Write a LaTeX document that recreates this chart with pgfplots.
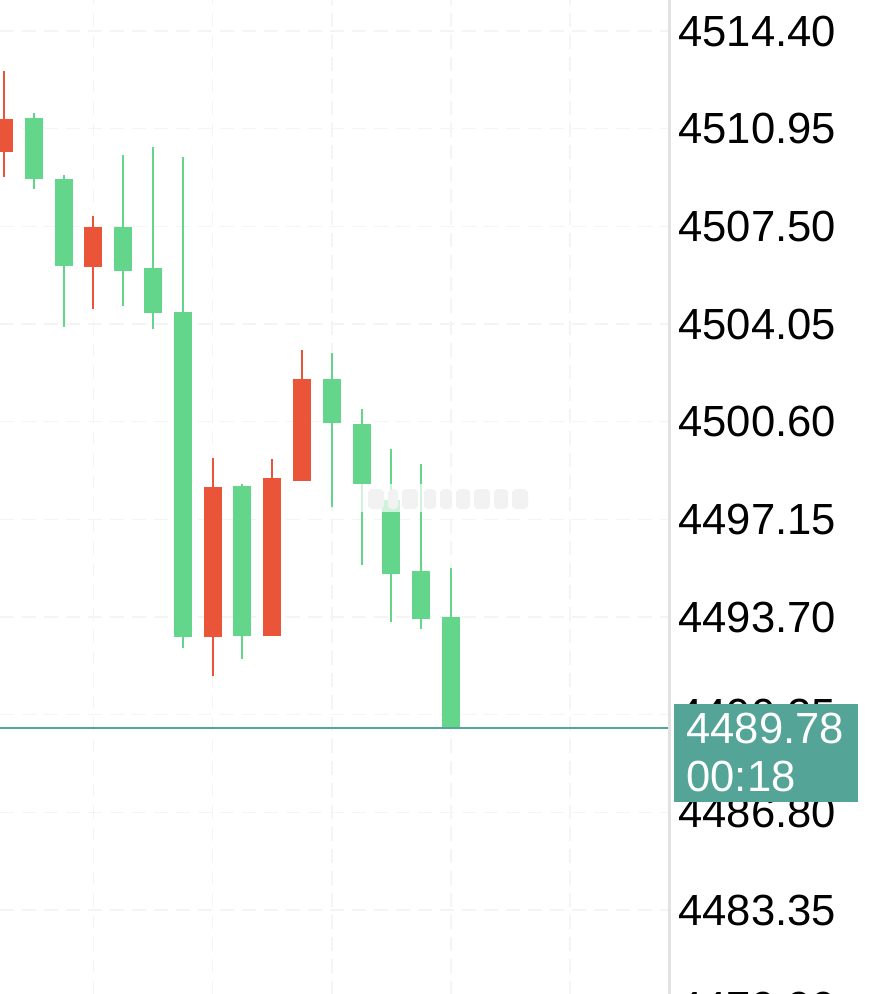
\documentclass[border=0pt]{standalone}
\usepackage{fontspec}
\setmainfont{Liberation Sans}
\usepackage{pgfplots}
\pgfplotsset{compat=1.18}
\usepackage{pgfplotstable}
\definecolor{cgreen}{RGB}{100,214,140}
\definecolor{cred}{RGB}{234,84,56}
\definecolor{cteal}{RGB}{84,165,152}
\definecolor{cgrid}{RGB}{244,244,244}
\definecolor{caxis}{RGB}{226,226,226}

% up candles (red): index, open, high, low, close
\pgfplotstableread{
i o h l c
1 4510.14 4512.99 4509.25 4511.28
4 4506.05 4507.88 4504.57 4507.47
8 4493.00 4499.31 4491.63 4498.28
10 4493.04 4499.27 4493.04 4498.60
11 4498.52 4503.13 4498.52 4502.11
}\upcandles

% down candles (green)
\pgfplotstableread{
i o h l c
2 4511.32 4511.49 4508.81 4509.16
3 4509.17 4509.31 4503.96 4506.11
5 4507.47 4510.02 4504.70 4505.93
6 4506.02 4510.29 4503.86 4504.45
7 4504.46 4509.96 4492.62 4493.00
9 4498.33 4498.40 4492.21 4493.04
12 4502.11 4503.02 4497.58 4500.56
13 4500.52 4501.04 4495.54 4498.40
14 4497.83 4499.64 4493.53 4495.22
15 4495.33 4499.10 4493.27 4493.62
16 4493.71 4495.42 4489.78 4489.78
}\downcandles

\begin{document}
\begin{tikzpicture}
\begin{axis}[
  at={(0,0)}, anchor=north west,
  scale only axis, width=335pt, height=530.74pt,
  xmin=0.86577, xmax=23.349, ymin=4478.0, ymax=4515.495,
  axis line style={draw=none},
  xtick={4,8,12,16,20}, xticklabels={},
  ytick={4479.90,4483.35,4486.80,4490.25,4493.70,4497.15,4500.60,4504.05,4507.50,4510.95,4514.40},
  yticklabels={4479.90,4483.35,4486.80,4490.25,4493.70,4497.15,4500.60,4504.05,4507.50,4510.95,4514.40},
  yticklabel pos=right,
  major tick length=0pt,
  xmajorgrids, ymajorgrids,
  major grid style={cgrid, line width=0.75pt, dash pattern=on 7pt off 4pt},
  yticklabel style={anchor=west, inner sep=0pt, xshift=4pt, font=\fontsize{21.8}{26}\selectfont, text=black},
  clip=false,
]
% wicks
\addplot[draw=none, mark=none, forget plot,
  error bars/.cd, y dir=plus, y explicit, error mark=none,
  error bar style={draw=cred, line width=1pt, solid}]
  table[x=i, y=l, y error plus expr=\thisrow{h}-\thisrow{l}] {\upcandles};
\addplot[draw=none, mark=none, forget plot,
  error bars/.cd, y dir=plus, y explicit, error mark=none,
  error bar style={draw=cgreen, line width=1pt, solid}]
  table[x=i, y=l, y error plus expr=\thisrow{h}-\thisrow{l}] {\downcandles};
% bodies
\addplot[draw=none, mark=none, forget plot,
  error bars/.cd, y dir=plus, y explicit, error mark=none,
  error bar style={draw=cred, line width=9pt, solid}]
  table[x=i, y=o, y error plus expr=\thisrow{c}-\thisrow{o}] {\upcandles};
\addplot[draw=none, mark=none, forget plot,
  error bars/.cd, y dir=plus, y explicit, error mark=none,
  error bar style={draw=cgreen, line width=9pt, solid}]
  table[x=i, y=c, y error plus expr=\thisrow{o}-\thisrow{c}] {\downcandles};
% current price line
\addplot[cteal, line width=0.75pt, mark=none] coordinates {(0.86577,4489.78) (23.349,4489.78)};
\end{axis}
\begin{scope}[x=0.5pt,y=-0.5pt]
  % blurred watermark
  \fill[white, opacity=0.7] (355,484) rectangle (535,512);
  \foreach \a/\b in {368/384,388/398,402/418,424/436,440/452,456/470,474/490,494/508,512/528}{
    \fill[black!5, rounded corners=2pt] (\a,489) rectangle (\b,509);
  }
  % right axis line
  \draw[caxis, line width=1.5pt] (669.5,0) -- (669.5,994);
  % price tag
  \fill[cteal] (674,704) rectangle (857.5,801.5);
  \node[anchor=base west, inner sep=0pt, text=white, font=\fontsize{21.8}{26}\selectfont] at (686,743) {4489.78};
  \node[anchor=base west, inner sep=0pt, text=white, font=\fontsize{21.8}{26}\selectfont] at (686,791) {00:18};
\end{scope}
\pgfresetboundingbox
\path[use as bounding box] (0,0) rectangle (446.5pt,-497pt);
\end{tikzpicture}
\end{document}
